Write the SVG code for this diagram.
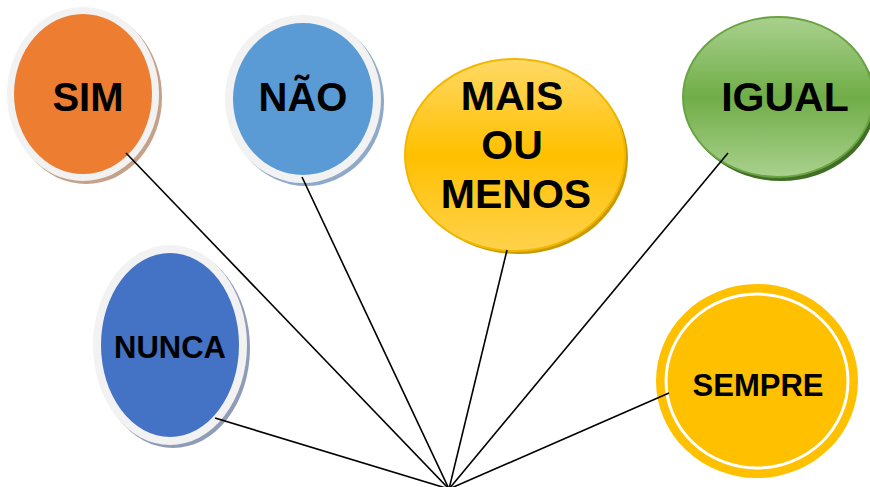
<svg xmlns="http://www.w3.org/2000/svg" width="870" height="487" viewBox="0 0 870 487">
<defs>
<linearGradient id="gGold" x1="0" y1="0" x2="0" y2="1">
<stop offset="0" stop-color="#ffd965"/>
<stop offset="0.5" stop-color="#ffc000"/>
<stop offset="1" stop-color="#ffd24d"/>
</linearGradient>
<linearGradient id="gGreen" x1="0" y1="0" x2="0" y2="1">
<stop offset="0" stop-color="#a9d18e"/>
<stop offset="0.5" stop-color="#70ad47"/>
<stop offset="1" stop-color="#a9d18e"/>
</linearGradient>
</defs>
<style>
.ring{fill:#f2f2f2}
.lbl{font-family:"Liberation Sans",Arial,sans-serif;font-weight:bold;fill:#000;text-anchor:middle}
.conn{stroke:#000;stroke-width:1.6;fill:none}
</style>
<g id="sim">
<ellipse cx="86" cy="97" rx="76" ry="87" fill="#c4a188"/>
<ellipse class="ring" cx="83" cy="94" rx="76" ry="87"/>
<ellipse cx="83" cy="94" rx="69" ry="80" fill="#ed7d31"/>
<text class="lbl" x="88" y="111" font-size="40">SIM</text>
</g>
<g id="nao">
<ellipse cx="306" cy="102" rx="78" ry="84" fill="#8ea9c9"/>
<ellipse class="ring" cx="303" cy="99" rx="78" ry="84"/>
<ellipse cx="303" cy="99" rx="70" ry="76" fill="#5b9bd5"/>
<text class="lbl" x="303" y="111" font-size="40">NÃO</text>
</g>
<g id="mais">
<ellipse cx="518" cy="158" rx="110" ry="96" fill="#c99a00"/>
<ellipse cx="515" cy="155" rx="110" ry="96" fill="url(#gGold)" stroke="#f2b800" stroke-width="2"/>
<text class="lbl" x="512" y="110" font-size="41">MAIS</text>
<text class="lbl" x="512" y="159" font-size="41">OU</text>
<text class="lbl" x="516" y="208" font-size="41">MENOS</text>
</g>
<g id="igual">
<ellipse cx="781" cy="101" rx="95" ry="80" fill="#3f6e24"/>
<ellipse cx="778" cy="97" rx="95" ry="80" fill="url(#gGreen)" stroke="#6aa341" stroke-width="2"/>
<text class="lbl" x="785" y="111" font-size="41">IGUAL</text>
</g>
<g id="nunca">
<ellipse cx="173" cy="348" rx="77" ry="100" fill="#8f9cb8"/>
<ellipse class="ring" cx="170" cy="345" rx="77" ry="100"/>
<ellipse cx="170" cy="345" rx="69" ry="92" fill="#4472c4"/>
<text class="lbl" x="170" y="358" font-size="31">NUNCA</text>
</g>
<g id="sempre">
<ellipse cx="757" cy="381" rx="101" ry="97" fill="#ffc000"/>
<ellipse cx="757" cy="381" rx="91" ry="87" fill="#ffc000" stroke="#ffffff" stroke-width="3"/>
<text class="lbl" x="758" y="396" font-size="31">SEMPRE</text>
</g>
<g id="connectors">
<line class="conn" x1="126" y1="153" x2="449" y2="489"/>
<line class="conn" x1="302" y1="177" x2="449" y2="489"/>
<line class="conn" x1="507" y1="250" x2="449" y2="489"/>
<line class="conn" x1="728" y1="153" x2="449" y2="489"/>
<line class="conn" x1="215" y1="418" x2="449" y2="489"/>
<line class="conn" x1="669" y1="393" x2="449" y2="489"/>
</g>
</svg>
